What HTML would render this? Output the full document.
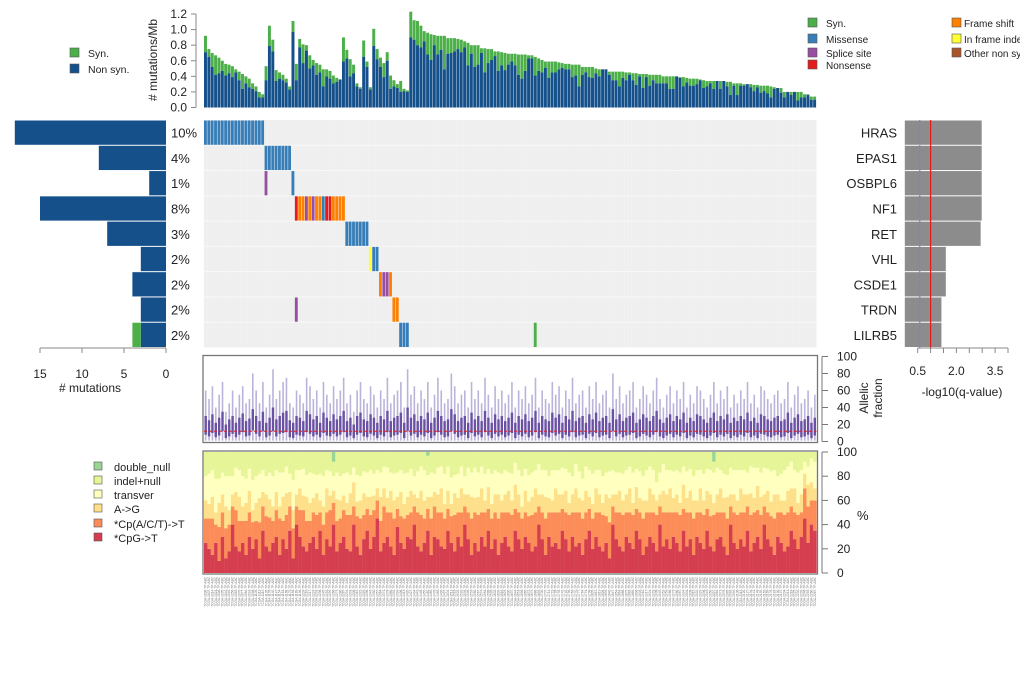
<!DOCTYPE html>
<html><head><meta charset="utf-8"><style>
html,body{margin:0;padding:0;background:#fff;}
svg{display:block;font-family:"Liberation Sans",Arial,sans-serif;}
</style></head><body>
<svg id="chart" width="1020" height="684" viewBox="0 0 1020 684" xmlns="http://www.w3.org/2000/svg">
<g id="topLegend" font-size="10.5" fill="#222">
 <rect x="70" y="48" width="9" height="9" fill="#4DAF4A" stroke="#555" stroke-width="0.6"/><text x="88" y="57">Syn.</text>
 <rect x="70" y="64" width="9" height="9" fill="#15508A" stroke="#555" stroke-width="0.6"/><text x="88" y="73">Non syn.</text>
</g>
<g id="typeLegend" font-size="10" fill="#222">
 <rect x="808" y="18" width="9" height="9" fill="#4DAF4A" stroke="#555" stroke-width="0.6"/><text x="826" y="27">Syn.</text>
 <rect x="808" y="34" width="9" height="9" fill="#377EB8" stroke="#555" stroke-width="0.6"/><text x="826" y="43">Missense</text>
 <rect x="808" y="48" width="9" height="9" fill="#984EA3" stroke="#555" stroke-width="0.6"/><text x="826" y="57">Splice site</text>
 <rect x="808" y="60" width="9" height="9" fill="#E41A1C" stroke="#555" stroke-width="0.6"/><text x="826" y="69">Nonsense</text>
 <rect x="952" y="18" width="9" height="9" fill="#FF7F00" stroke="#555" stroke-width="0.6"/><text x="964" y="27">Frame shift</text>
 <rect x="952" y="34" width="9" height="9" fill="#FFFF33" stroke="#555" stroke-width="0.6"/><text x="964" y="43">In frame indel</text>
 <rect x="952" y="48" width="9" height="9" fill="#A65628" stroke="#555" stroke-width="0.6"/><text x="964" y="57">Other non syn.</text>
</g>
<g id="specLegend" font-size="11" fill="#222">
 <rect x="94" y="462" width="8" height="8" fill="#99D594" stroke="#555" stroke-width="0.6"/><text x="114" y="471">double_null</text>
 <rect x="94" y="476" width="8" height="8" fill="#E6F598" stroke="#555" stroke-width="0.6"/><text x="114" y="485">indel+null</text>
 <rect x="94" y="490" width="8" height="8" fill="#FFFFBF" stroke="#555" stroke-width="0.6"/><text x="114" y="499">transver</text>
 <rect x="94" y="504" width="8" height="8" fill="#FEE08B" stroke="#555" stroke-width="0.6"/><text x="114" y="513">A-&gt;G</text>
 <rect x="94" y="519" width="8" height="8" fill="#FC8D59" stroke="#555" stroke-width="0.6"/><text x="114" y="528">*Cp(A/C/T)-&gt;T</text>
 <rect x="94" y="533" width="8" height="8" fill="#D53E4F" stroke="#555" stroke-width="0.6"/><text x="114" y="542">*CpG-&gt;T</text>
</g>
</svg>
<script>
const totalRate=[0.92,0.75,0.70,0.67,0.64,0.60,0.56,0.55,0.53,0.49,0.46,0.43,0.40,0.37,0.31,0.27,0.20,0.17,0.53,1.05,0.87,0.48,0.45,0.42,0.37,0.27,1.11,0.56,0.88,0.81,0.80,0.67,0.61,0.57,0.55,0.49,0.49,0.47,0.41,0.38,0.36,0.90,0.74,0.62,0.55,0.31,0.26,0.86,0.59,0.26,1.01,0.75,0.64,0.57,0.71,0.41,0.35,0.30,0.34,0.24,0.22,
1.23,1.12,1.11,1.05,0.98,0.96,0.94,0.93,0.92,0.92,0.92,0.89,
0.89,0.89,0.88,0.87,0.85,0.83,0.80,0.80,0.80,0.76,0.76,0.75,0.75,0.72,0.72,0.71,0.70,0.69,0.69,0.69,0.68,0.68,0.68,0.67,0.67,0.65,0.63,0.61,0.59,0.59,0.59,0.59,0.58,0.57,0.56,0.56,0.55,0.55,0.55,0.52,0.52,0.52,0.52,0.50,0.49,0.49,0.49,0.46,0.46,0.46,0.46,0.46,0.45,0.45,0.44,0.44,0.43,0.43,0.43,0.42,0.42,0.42,0.42,0.40,0.40,0.40,0.40,0.40,0.39,0.39,0.38,0.37,0.37,0.37,0.36,0.35,0.34,0.34,0.34,0.34,0.34,0.34,0.33,0.33,0.31,0.31,0.31,0.30,0.30,0.30,0.29,0.29,0.28,0.28,0.28,0.27,0.26,0.25,0.25,0.20,0.20,0.20,0.20,0.20,0.20,0.17,0.17,0.14,0.14];
const nonsynRate=[0.71,0.65,0.52,0.42,0.44,0.47,0.41,0.44,0.39,0.45,0.35,0.24,0.31,0.26,0.24,0.21,0.13,0.13,0.35,0.79,0.72,0.34,0.37,0.35,0.32,0.23,0.97,0.35,0.77,0.57,0.73,0.50,0.54,0.42,0.45,0.27,0.40,0.37,0.31,0.33,0.36,0.59,0.63,0.40,0.44,0.27,0.24,0.65,0.52,0.23,0.79,0.62,0.52,0.39,0.60,0.24,0.27,0.25,0.20,0.21,0.20,
0.90,0.87,0.80,0.77,0.85,0.68,0.61,0.80,0.68,0.74,0.49,0.69,
0.70,0.72,0.75,0.71,0.77,0.54,0.69,0.52,0.55,0.70,0.45,0.57,0.61,0.66,0.47,0.54,0.48,0.55,0.59,0.54,0.42,0.37,0.47,0.63,0.63,0.41,0.47,0.45,0.51,0.38,0.45,0.45,0.49,0.51,0.49,0.49,0.39,0.41,0.27,0.42,0.45,0.39,0.38,0.44,0.40,0.49,0.49,0.42,0.35,0.35,0.27,0.38,0.35,0.42,0.35,0.29,0.40,0.25,0.39,0.28,0.35,0.31,0.31,0.31,0.31,0.24,0.24,0.40,0.38,0.27,0.32,0.28,0.28,0.30,0.35,0.25,0.27,0.31,0.24,0.34,0.24,0.34,0.27,0.16,0.28,0.16,0.28,0.28,0.30,0.26,0.21,0.26,0.19,0.21,0.18,0.13,0.24,0.25,0.19,0.13,0.20,0.16,0.20,0.09,0.13,0.13,0.16,0.10,0.10];
const rateTicks=[0.0,0.2,0.4,0.6,0.8,1.0,1.2];
const genes=["HRAS","EPAS1","OSBPL6","NF1","RET","VHL","CSDE1","TRDN","LILRB5"];
const genePct=["10%","4%","1%","8%","3%","2%","2%","2%","2%"];
const geneNonsynCount=[18,8,2,15,7,3,4,3,3];
const geneSynCount=[0,0,0,0,0,0,0,0,1];
const countTicks=[15,10,5,0];
const geneQ=[2.98,2.98,2.98,2.98,2.94,1.59,1.59,1.42,1.42];
const qTicks=[0.5,1.0,1.5,2.0,2.5,3.0,3.5,4.0];
const qTickLabels=["0.5","","","2.0","","","3.5",""];
const qThreshold=1.0, qThreshold2=0.58;
const mutGene=[0,0,0,0,0,0,0,0,0,0,0,0,0,0,0,0,0,0, 1,1,1,1,1,1,1,1, 2,2, 3,3,3,3,3,3,3,3,3,3,3,3,3,3,3, 4,4,4,4,4,4,4, 5,5,5, 6,6,6,6, 7,7,7, 8,8,8,8];
const mutSample=[0,1,2,3,4,5,6,7,8,9,10,11,12,13,14,15,16,17, 18,19,20,21,22,23,24,25, 18,26, 27,28,29,30,31,32,33,34,35,36,37,38,39,40,41, 42,43,44,45,46,47,48, 49,50,51, 52,53,54,55, 27,56,57, 58,59,60,98];
const mutType=["mis","mis","mis","mis","mis","mis","mis","mis","mis","mis","mis","mis","mis","mis","mis","mis","mis","mis", "mis","mis","mis","mis","mis","mis","mis","mis", "spl","mis", "non","fs","fs","spl","fs","spl","fs","fs","mis","non","non","fs","fs","fs","fs", "mis","mis","mis","mis","mis","mis","mis", "ifi","mis","mis", "fs","spl","spl","fs", "spl","fs","fs", "mis","mis","mis","syn"];
const afMax=[60,50,65,40,55,70,35,45,60,40,55,65,45,50,80,60,45,70,40,55,
85,50,60,70,75,45,40,60,55,45,75,65,50,60,40,70,55,45,65,50,
60,75,45,55,35,60,70,50,45,65,55,40,60,50,75,45,55,60,70,40,
85,55,65,45,60,50,70,40,55,75,60,45,50,80,65,45,55,60,40,70,
50,60,45,75,55,40,65,50,60,45,55,70,40,60,50,65,45,55,75,40,
60,50,45,70,55,65,40,60,50,75,45,55,60,40,65,50,70,45,55,60,
40,80,50,65,45,55,60,70,40,50,65,55,45,60,75,50,40,55,65,45,
60,50,70,40,55,45,65,60,50,40,55,70,45,60,50,65,40,55,45,60,
50,70,45,55,40,65,60,50,45,55,60,45,50,70,40,55,65,45,50,60,40,55];
const afHi=[30,25,32,22,28,35,20,26,30,22,28,33,24,27,38,30,24,35,22,28,
40,26,30,34,36,25,22,30,28,24,36,32,26,30,22,34,28,24,32,26,
30,36,24,28,20,30,34,26,24,32,28,22,30,26,36,24,28,30,34,22,
40,28,32,24,30,26,34,22,28,36,30,24,26,38,32,24,28,30,22,34,
26,30,24,36,28,22,32,26,30,24,28,34,22,30,26,32,24,28,36,22,
30,26,24,34,28,32,22,30,26,36,24,28,30,22,32,26,34,24,28,30,
22,38,26,32,24,28,30,34,22,26,32,28,24,30,36,26,22,28,32,24,
30,26,34,22,28,24,32,30,26,22,28,34,24,30,26,32,22,28,24,30,
26,34,24,28,22,32,30,26,24,28,30,24,26,34,22,28,32,24,26,30,22,28];
const afLo=[8,6,10,5,7,12,4,6,9,5,8,11,6,7,13,9,6,12,5,7,
12,6,9,10,11,5,4,8,7,6,11,9,6,8,5,10,7,6,9,6,
8,11,5,7,4,8,10,6,5,9,7,4,8,6,11,5,7,8,10,4,
12,7,9,5,8,6,10,4,7,11,8,5,6,12,9,5,7,8,4,10,
6,8,5,11,7,4,9,6,8,5,7,10,4,8,6,9,5,7,11,4,
8,6,5,10,7,9,4,8,6,11,5,7,8,4,9,6,10,5,7,8,
4,12,6,9,5,7,8,10,4,6,9,7,5,8,11,6,4,7,9,5,
8,6,10,4,7,5,9,8,6,4,7,10,5,8,6,9,4,7,5,8,
6,10,5,7,4,9,8,6,5,7,8,5,6,10,4,7,9,5,6,8,4,7];
const afTicks=[0,20,40,60,80,100];
const afThreshold=12;
const spCpG=[25,20,15,25,10,30,12,18,40,22,18,25,15,30,20,28,12,35,22,18,
25,30,15,28,20,35,12,40,30,22,18,25,30,20,35,15,28,22,40,18,
25,30,20,18,40,22,15,28,35,20,30,45,18,25,30,22,15,38,25,20,
30,28,40,22,18,25,35,15,30,28,22,20,35,25,18,30,22,40,28,15,
25,18,30,22,35,20,28,15,25,30,22,18,35,28,20,30,25,18,22,40,
28,15,30,22,25,20,35,28,18,30,22,25,15,28,35,20,30,22,18,25,
12,40,28,22,18,30,25,20,35,28,15,22,30,25,18,40,22,28,20,30,
25,18,35,22,28,15,30,25,20,35,22,18,28,30,22,15,40,25,20,28,
22,35,18,25,30,20,40,28,22,15,30,25,18,22,35,28,20,30,45,25,40,35];
const spCpX=[20,25,30,15,28,20,25,22,15,30,25,18,28,20,22,15,30,20,25,28,
18,22,30,15,28,20,25,15,22,30,25,18,20,28,15,25,22,30,18,25,
20,22,28,30,15,25,30,20,18,28,22,15,25,30,20,28,30,15,22,25,
18,22,15,28,30,20,18,30,25,22,28,25,18,22,30,20,28,15,22,30,
25,30,20,28,18,25,22,30,25,20,28,30,18,22,25,20,22,30,28,15,
22,30,20,28,25,30,18,22,30,20,28,25,30,22,18,25,20,28,30,22,
30,15,22,28,30,20,25,28,18,22,30,28,20,25,30,15,28,22,30,20,
25,30,18,28,22,30,20,25,28,18,25,30,22,20,28,30,15,25,28,22,
28,20,30,25,22,28,15,22,25,30,20,25,30,28,20,22,28,20,25,30,20,25];
const spAG=[15,12,18,10,20,15,18,12,10,15,20,12,15,18,10,15,20,12,18,15,
12,15,10,20,18,12,15,10,18,12,20,15,12,18,10,15,20,12,10,18,
15,12,10,18,20,12,15,18,10,15,12,10,20,15,12,18,15,10,20,12,
15,18,10,12,20,15,10,18,12,15,20,12,15,10,18,12,20,10,15,18,
12,15,20,10,18,12,15,20,10,15,18,12,20,15,10,18,12,15,20,10,
15,18,12,10,20,15,12,18,10,15,20,12,15,18,10,12,20,15,10,18,
20,10,15,18,12,15,20,10,18,12,15,10,20,15,12,10,18,15,20,12,
15,10,20,12,18,15,10,20,12,15,18,10,15,20,12,18,10,15,12,20,
15,10,18,12,20,15,10,18,12,20,15,10,12,18,15,20,10,15,12,18,15,10];
const spTV=[20,25,22,28,20,18,25,28,15,20,22,25,20,18,25,22,20,18,15,22,
25,18,28,20,22,15,25,20,15,22,18,25,20,15,22,25,15,20,12,22,
20,18,25,15,12,22,20,18,20,22,18,15,20,18,25,15,22,20,18,25,
20,18,15,22,20,25,18,20,15,22,18,25,20,22,15,20,18,15,22,20,
25,20,18,22,15,25,20,18,22,20,15,22,18,20,25,18,22,20,15,25,
20,22,18,25,15,20,22,18,25,15,20,22,18,20,22,25,15,20,22,18,
22,20,18,15,22,20,18,25,15,22,20,25,18,20,15,18,22,20,15,22,
20,25,15,22,18,20,25,15,22,18,20,25,22,15,20,18,22,20,25,15,
20,18,22,25,15,20,22,18,25,20,15,22,25,20,22,15,25,20,10,15,20,22];
const spDN=[0,0,0,0,0,0,0,0,0,0,0,0,0,0,0,0,0,0,0,0,0,0,0,0,0,0,0,0,0,0,0,0,0,0,0,0,0,0,8,0,
0,0,0,0,0,0,0,0,0,0,0,0,0,0,0,0,0,0,0,0,0,0,0,0,0,0,3,0,0,0,0,0,0,0,0,0,0,0,0,0,
0,0,0,0,0,0,0,0,0,0,0,0,0,0,0,0,0,0,0,0,0,0,0,0,0,0,0,0,0,0,0,0,0,0,0,0,0,0,0,0,
0,0,0,0,0,0,0,0,0,0,0,0,0,0,0,0,0,0,0,0,0,0,0,0,0,0,0,0,0,0,0,8,0,0,0,0,0,0,0,0,
0,0,0,0,0,0,0,0,0,0,0,0,0,0,0,0,0,0,0,0,0,0];
const pctTicks=[0,20,40,60,80,100];

const NS="http://www.w3.org/2000/svg";
const svg=document.getElementById('chart');
function mk(tag,attrs,parent){const e=document.createElementNS(NS,tag);for(const k in attrs)e.setAttribute(k,attrs[k]);(parent||svg).appendChild(e);return e;}
const N=totalRate.length;
const X0=204,X1=816.5,cw=(X1-X0)/N;
const sx=i=>X0+i*cw;
const typeColor={mis:"#377EB8",spl:"#984EA3",non:"#E41A1C",fs:"#FF7F00",ifi:"#FFFF33",oth:"#A65628",syn:"#4DAF4A"};

const TY0=107.5,TY1=14;
const ty=v=>TY0-(v/1.2)*(TY0-TY1);
const gTop=mk('g',{});


for(let i=0;i<N;i++){
  const s=mk('rect',{x:sx(i),y:ty(totalRate[i]),width:cw-0.4,height:ty(nonsynRate[i])-ty(totalRate[i]),fill:"#4DAF4A"},gTop);
  
  
  const b=mk('rect',{x:sx(i),y:ty(nonsynRate[i]),width:cw-0.4,height:TY0-ty(nonsynRate[i]),fill:"#15508A"},gTop);
  
  
}
const ax=mk('g',{},gTop);


mk('line',{x1:196,x2:196,y1:ty(0),y2:ty(1.2),stroke:"#888"},ax);
rateTicks.forEach(t=>{mk('line',{x1:191,x2:196,y1:ty(t),y2:ty(t),stroke:"#888"},ax);
 const tx=mk('text',{x:187,y:ty(t)+4,'font-size':12,'text-anchor':'end',fill:'#222'},ax);tx.textContent=t.toFixed(1);});
const ylab=mk('text',{x:0,y:0,'font-size':12,'text-anchor':'middle',fill:'#222',transform:'translate(157,60) rotate(-90)'},ax);


ylab.textContent="# mutations/Mb";

const HY0=120,HY1=347.5,rh=(HY1-HY0)/genes.length;
const gH=mk('g',{});


mk('rect',{x:X0,y:HY0,width:X1-X0,height:HY1-HY0,fill:"#EFEFEF"},gH);
for(let i=0;i<N;i++){mk('line',{x1:sx(i),x2:sx(i),y1:HY0,y2:HY1,stroke:"#F4F4F4","stroke-width":0.4},gH);}
for(let r=1;r<genes.length;r++){mk('line',{x1:X0,x2:X1,y1:HY0+r*rh,y2:HY0+r*rh,stroke:"#F8F8F8","stroke-width":1},gH);}
for(let k=0;k<mutGene.length;k++){
  const c=mk('rect',{x:sx(mutSample[k]),y:HY0+mutGene[k]*rh+0.5,width:cw-0.5,height:rh-1,fill:typeColor[mutType[k]]},gH);
  
  
}

const LX0=166,lsc=8.4;
const gL=mk('g',{});


genes.forEach((g,r)=>{
  const y=HY0+r*rh;
  const b=mk('rect',{x:LX0-geneNonsynCount[r]*lsc,y:y+0.5,width:geneNonsynCount[r]*lsc,height:rh-1,fill:"#15508A"},gL);
  
  
  if(geneSynCount[r]>0){const s=mk('rect',{x:LX0-(geneNonsynCount[r]+geneSynCount[r])*lsc,y:y+0.5,width:geneSynCount[r]*lsc,height:rh-1,fill:"#4DAF4A"},gL);
  
  }
  const p=mk('text',{x:171,y:y+rh/2+5,'font-size':13,fill:'#222'},gL);
  
  
  p.textContent=genePct[r];
  const gn=mk('text',{x:897,y:y+rh/2+5,'font-size':13,'text-anchor':'end',fill:'#222'});
  
  
  gn.textContent=g;
});
mk('line',{x1:LX0-15*lsc,x2:LX0,y1:348,y2:348,stroke:"#888"},gL);
countTicks.forEach(t=>{const x=LX0-t*lsc;mk('line',{x1:x,x2:x,y1:348,y2:353,stroke:"#888"},gL);
 const tx=mk('text',{x:x,y:378,'font-size':12,'text-anchor':'middle',fill:'#222'},gL);tx.textContent=t;});
const cl=mk('text',{x:90,y:392,'font-size':12,'text-anchor':'middle',fill:'#222'},gL);


cl.textContent="# mutations";

const QX0=904.8,qsc=25.8;
const gQ=mk('g',{});


geneQ.forEach((q,r)=>{const b=mk('rect',{x:QX0,y:HY0+r*rh+0.5,width:q*qsc,height:rh-1,fill:"#8C8C8C"},gQ);
 
 });
mk('line',{x1:QX0+qThreshold2*qsc,x2:QX0+qThreshold2*qsc,y1:HY0,y2:HY1,stroke:"#9B6FD0","stroke-width":1.2,"stroke-dasharray":"3,2"},gQ);
mk('line',{x1:QX0+qThreshold*qsc,x2:QX0+qThreshold*qsc,y1:HY0,y2:HY1,stroke:"#E41A1C","stroke-width":1.2},gQ);
mk('line',{x1:QX0+0.5*qsc,x2:QX0+4*qsc,y1:348,y2:348,stroke:"#888"},gQ);
qTicks.forEach((t,k)=>{const x=QX0+t*qsc;mk('line',{x1:x,x2:x,y1:348,y2:353,stroke:"#888"},gQ);
 if(qTickLabels[k]){const tx=mk('text',{x:x,y:375,'font-size':12,'text-anchor':'middle',fill:'#222'},gQ);tx.textContent=qTickLabels[k];}});
const ql=mk('text',{x:962,y:396,'font-size':12,'text-anchor':'middle',fill:'#222'},gQ);


ql.textContent="-log10(q-value)";

const AY0=441.5,AY1=356.5;
const ay=v=>AY0-v/100*(AY0-AY1);
const gA=mk('g',{});


for(let i=0;i<N;i++){
  const xc=sx(i)+cw/2;
  const l=mk('line',{x1:xc,x2:xc,y1:ay(1),y2:ay(afMax[i]),stroke:"#BBB3DA","stroke-width":1.6},gA);
  
  
  const b=mk('rect',{x:xc-1.2,y:ay(afHi[i]),width:2.4,height:ay(afLo[i])-ay(afHi[i]),fill:"#6A51A3"},gA);
  
  
}
mk('line',{x1:X0,x2:X1,y1:ay(afThreshold),y2:ay(afThreshold),stroke:"#E41A1C","stroke-dasharray":"3,2","stroke-width":1},gA);
mk('rect',{x:X0-1,y:AY1-1,width:X1-X0+2,height:AY0-AY1+2,fill:"none",stroke:"#777","stroke-width":1.3},gA);
mk('line',{x1:822,x2:822,y1:ay(0),y2:ay(100),stroke:"#777"},gA);
afTicks.forEach(t=>{mk('line',{x1:822,x2:828,y1:ay(t),y2:ay(t),stroke:"#777"},gA);
 const tx=mk('text',{x:837,y:ay(t)+4,'font-size':12,fill:'#222'},gA);tx.textContent=t;});
const at=mk('text',{x:0,y:0,'font-size':12,'text-anchor':'middle',fill:'#222',transform:'translate(871,398) rotate(-90)'},gA);


at.innerHTML='<tspan x="0" dy="-3">Allelic</tspan><tspan x="0" dy="14">fraction</tspan>';

const SY0=573,SY1=452;
const py=v=>SY0-v/100*(SY0-SY1);
const gS=mk('g',{});


const spColors=["#D53E4F","#FC8D59","#FEE08B","#FFFFBF","#E6F598","#99D594"];
const spNames=["cpg","cpx","ag","tv","indel","double-null"];
for(let i=0;i<N;i++){
  const vals=[spCpG[i],spCpX[i],spAG[i],spTV[i]];
  const rest=100-vals.reduce((a,b)=>a+b,0)-spDN[i];
  vals.push(rest);vals.push(spDN[i]);
  let acc=0;
  vals.forEach((v,k)=>{if(v<=0)return;const r=mk('rect',{x:sx(i),y:py(acc+v),width:cw+0.2,height:py(acc)-py(acc+v),fill:spColors[k]},gS);
   
   
   acc+=v;});
}
mk('rect',{x:X0-1,y:SY1-1,width:X1-X0+2,height:SY0-SY1+2,fill:"none",stroke:"#777","stroke-width":1.3},gS);
mk('line',{x1:822,x2:822,y1:py(0),y2:py(100),stroke:"#777"},gS);
pctTicks.forEach(t=>{mk('line',{x1:822,x2:828,y1:py(t),y2:py(t),stroke:"#777"},gS);
 const tx=mk('text',{x:837,y:py(t)+4,'font-size':12,fill:'#222'},gS);tx.textContent=t;});
const pt=mk('text',{x:857,y:520,'font-size':13,fill:'#222'},gS);


pt.textContent="%";

const gN=mk('g',{});


for(let i=0;i<N;i++){
  const xc=sx(i)+cw/2+1;
  const t=mk('text',{x:0,y:0,'font-size':3.2,'text-anchor':'end',fill:'#777',transform:'translate('+xc+',577) rotate(-90)'},gN);
  
  
  t.textContent="TCGA-"+(1000+i*7)+"-TP-ABC";
}
</script>
</body></html>
